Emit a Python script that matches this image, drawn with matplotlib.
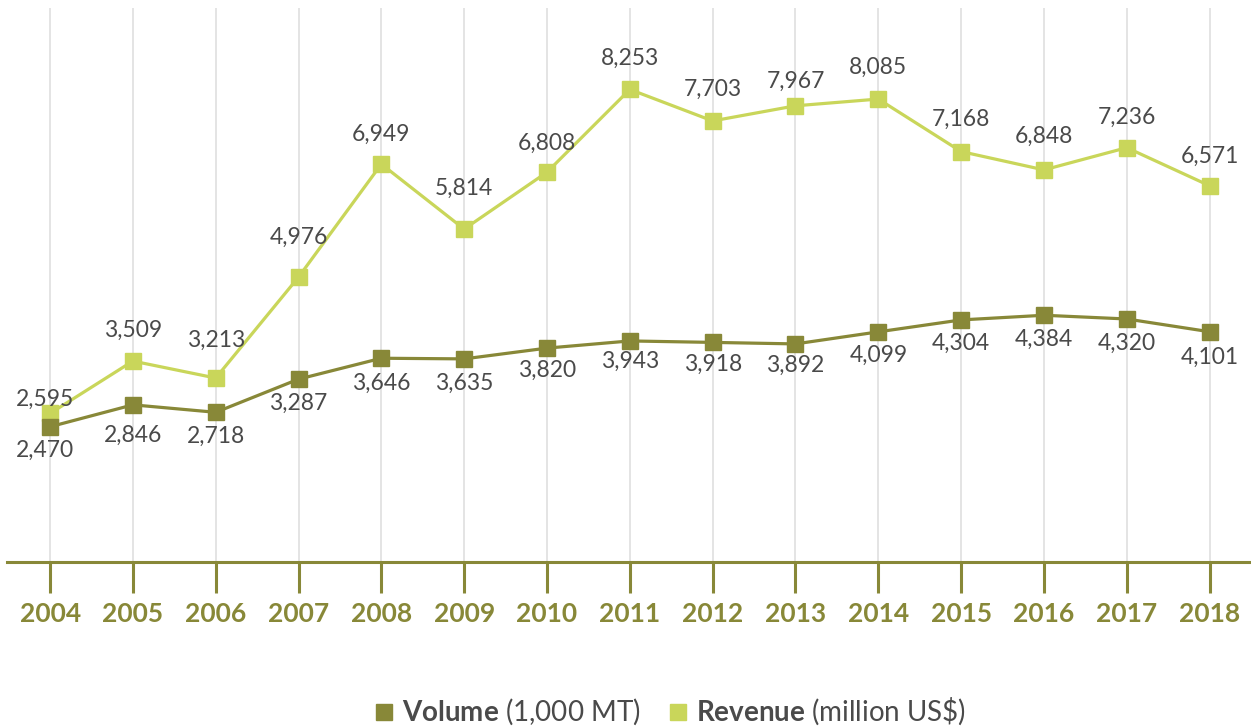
import matplotlib
matplotlib.use('Agg')
import matplotlib.pyplot as plt
from matplotlib.lines import Line2D

# Данные
years = ['2004', '2005', '2006', '2007', '2008', '2009', '2010', '2011',
         '2012', '2013', '2014', '2015', '2016', '2017', '2018']
volume = [2470, 2846, 2718, 3287, 3646, 3635, 3820, 3943, 3918, 3892,
          4099, 4304, 4384, 4320, 4101]
revenue = [2595, 3509, 3213, 4976, 6949, 5814, 6808, 8253, 7703, 7967,
           8085, 7168, 6848, 7236, 6571]

# Сдвиги подписей (в пикселях), как на исходной картинке
rev_off = [14, 31, 38, 40, 30, 41, 29, 31, 32, 24, 32, 32, 34, 30, 29]
vol_off = [24, 31, 24, 24, 25, 24, 22, 20, 22, 21, 23, 23, 24, 24, 26]

OLIVE = '#888838'
LIME = '#c9d65a'
TEXT = '#4a4a4a'
PX = 0.72  # пиксели -> пункты при dpi=100

plt.rcParams['font.family'] = ['Lato', 'DejaVu Sans']
plt.rcParams['mathtext.fontset'] = 'custom'
plt.rcParams['mathtext.rm'] = 'Lato'
plt.rcParams['mathtext.bf'] = 'Lato:bold'

fig = plt.figure(figsize=(12.51, 7.27), dpi=100)
ax = fig.add_axes([7 / 1251, 1 - 562 / 727, 1 - 7 / 1251, (562 - 8) / 727])
ax2 = ax.twinx()

x = list(range(len(years)))

# Выручка
ax.plot(x, revenue, color=LIME, lw=2.3, marker='s', ms=12, zorder=3)
ax.set_ylim(0, (562 - 8) / 0.05726)
ax.set_xlim(-0.52, 14.5)

# Объём
ax2.plot(x, volume, color=OLIVE, lw=2.3, marker='s', ms=12, zorder=3)
ax2.set_ylim(148, 148 + (562 - 8) / 0.05825)

for i, v in enumerate(revenue):
    dx = -5 * PX if i == 0 else 0
    ax.annotate(f'{v:,}', (i, v), xytext=(dx, rev_off[i] * PX),
                textcoords='offset points', ha='center', va='center',
                fontsize=16.5, color=TEXT, annotation_clip=False)
for i, v in enumerate(volume):
    dx = -5 * PX if i == 0 else 0
    ax2.annotate(f'{v:,}', (i, v), xytext=(dx, -vol_off[i] * PX),
                 textcoords='offset points', ha='center', va='center',
                 fontsize=16.5, color=TEXT, annotation_clip=False)

# Оси и сетка
for a in (ax, ax2):
    for s in ('top', 'right', 'left'):
        a.spines[s].set_visible(False)
    a.set_yticks([])
ax2.spines['bottom'].set_visible(False)
ax.spines['bottom'].set_color(OLIVE)
ax.spines['bottom'].set_linewidth(2.2)
ax.set_xticks(x)
ax.set_xticklabels(years, fontsize=19, fontweight='bold', color=OLIVE)
ax.tick_params(axis='x', direction='out', length=22, width=2.2,
               color=OLIVE, pad=7)
ax.grid(axis='x', color='#dddddd', lw=1.1)
ax.set_axisbelow(True)

# Легенда
handles = [Line2D([], [], ls='none', marker='s', ms=12, color=OLIVE),
           Line2D([], [], ls='none', marker='s', ms=12, color=LIME)]
labels = [r'$\bf{Volume}$ (1,000 MT)', r'$\bf{Revenue}$ (million US\$)']
fig.legend(handles, labels, loc='center', bbox_to_anchor=(0.536, 0.021),
           ncol=2, frameon=False, fontsize=20, handlelength=0.7,
           handletextpad=0.3, columnspacing=1.0, labelcolor=TEXT)

fig.savefig('out.png', dpi=100)
